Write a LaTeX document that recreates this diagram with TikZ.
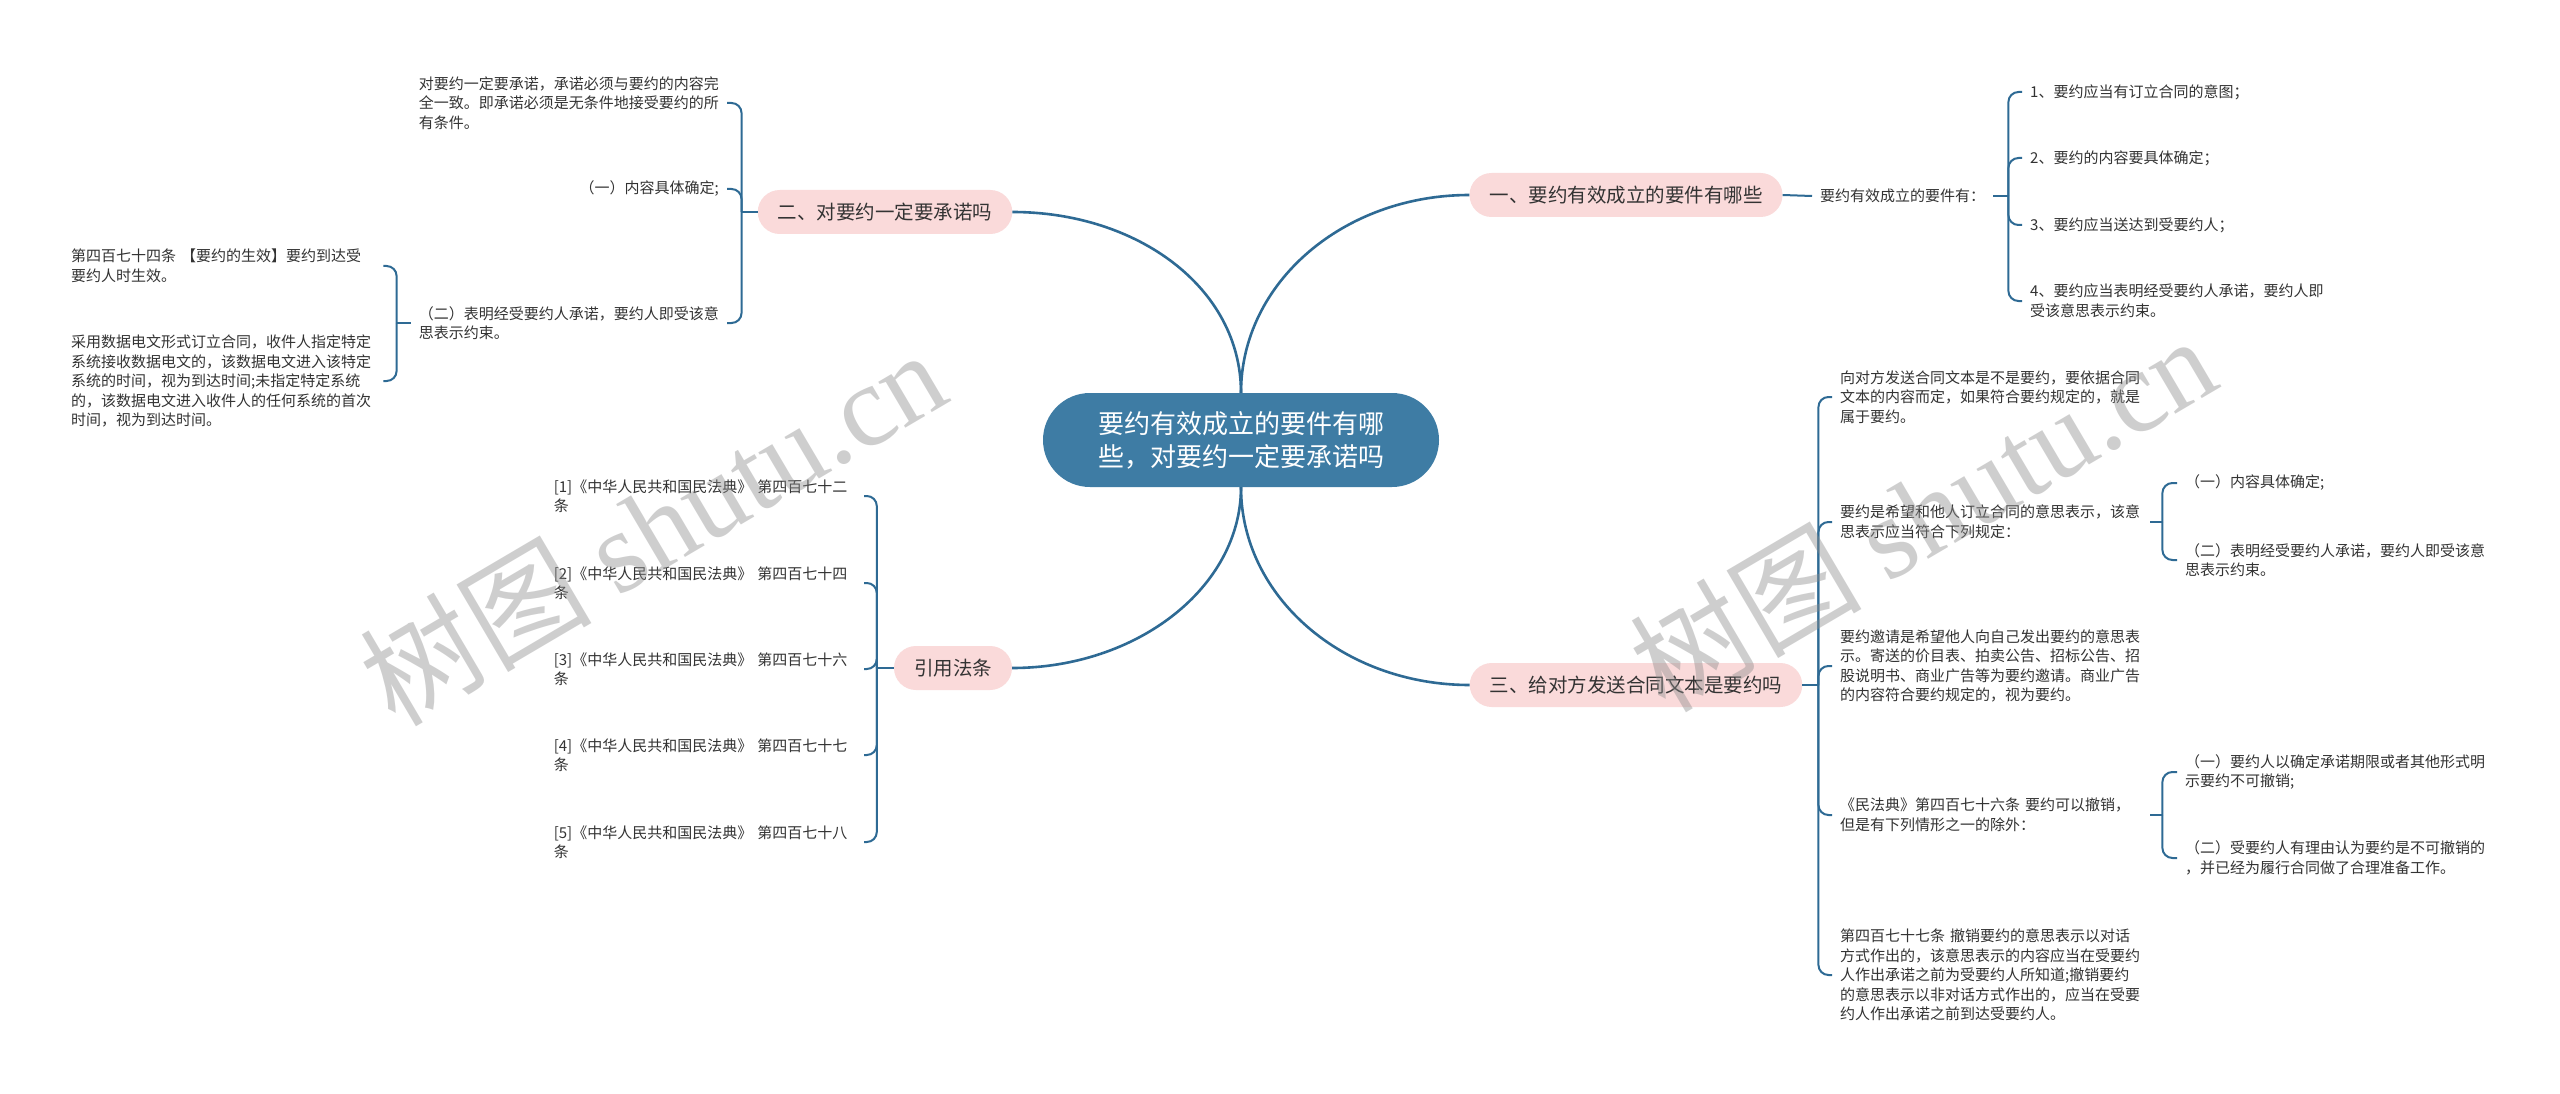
\documentclass[tikz,border=0pt]{standalone}
\usepackage{fontspec}
\setmainfont{Noto Sans CJK SC}
\newfontfamily\wmserif{Liberation Serif}
\usetikzlibrary{calc}
\definecolor{rootblue}{HTML}{3E7CA4}
\definecolor{linkblue}{HTML}{2E6A94}
\definecolor{pinkfill}{HTML}{FADADA}
\definecolor{txt}{HTML}{333333}
\begin{document}
\begin{tikzpicture}[x=1pt,y=-1pt,
  link/.style={draw=linkblue, line width=2pt},
  mainlink/.style={draw=linkblue, line width=2.6pt},
  fork/.style={draw=linkblue, line width=2pt, rounded corners=10pt},
  rootnode/.style={fill=rootblue, text=white, rounded corners=47pt, minimum height=94pt, minimum width=396pt, align=center, font=\fontsize{26}{33}\selectfont, inner sep=0pt},
  branch/.style={fill=pinkfill, text=txt, rounded corners=22pt, minimum height=44pt, inner xsep=20pt, inner ysep=0pt, font=\fontsize{19.5}{24}\selectfont},
  leaf/.style={text=txt, align=left, inner xsep=8pt, inner ysep=0pt, font=\fontsize{15}{19.5}\selectfont},
  wm/.style={text=black!45, opacity=0.42, rotate=30.5, inner sep=0pt}]
\fill[white] (0,0) rectangle (2560,1094);
\useasboundingbox (0,0) rectangle (2560,1094);

% root and branches
\node[rootnode] (root) at (1241,440) {要约有效成立的要件有哪\\些，对要约一定要承诺吗};
\node[branch] (b1) at (1626,195) {一、要约有效成立的要件有哪些};
\node[branch] (b2) at (885,212) {二、对要约一定要承诺吗};
\node[branch] (b3) at (1636,685) {三、给对方发送合同文本是要约吗};
\node[branch] (b4) at (953,668) {引用法条};

\draw[mainlink] (root.north) .. controls +(0,-105) and +(125,0) .. (b2.east);
\draw[mainlink] (root.north) .. controls +(0,-110) and +(-126,0) .. (b1.west);
\draw[mainlink] (root.south) .. controls +(0,100) and +(125,0) .. (b4.east);
\draw[mainlink] (root.south) .. controls +(0,110) and +(-126,0) .. (b3.west);

% branch 1
\node[leaf, anchor=west] (c1) at (1812,196) {要约有效成立的要件有：};
\node[leaf, anchor=west] (c11) at (2022,92) {1、要约应当有订立合同的意图；};
\node[leaf, anchor=west] (c12) at (2022,158) {2、要约的内容要具体确定；};
\node[leaf, anchor=west] (c13) at (2022,225) {3、要约应当送达到受要约人；};
\node[leaf, anchor=west] (c14) at (2022,301) {4、要约应当表明经受要约人承诺，要约人即\\受该意思表示约束。};
\draw[link] (b1.east) -- (c1.west);
\draw[link] (c1.east) -- ++(15,0) coordinate (f1);
\foreach \n in {c11,c12,c13,c14} \draw[fork] (f1) |- (\n.west);

% branch 2
\node[leaf, anchor=east] (n21) at (727,103) {对要约一定要承诺，承诺必须与要约的内容完\\全一致。即承诺必须是无条件地接受要约的所\\有条件。};
\node[leaf, anchor=east] (n22) at (727,189) {（一）内容具体确定;};
\node[leaf, anchor=east] (n23) at (727,323) {（二）表明经受要约人承诺，要约人即受该意\\思表示约束。};
\draw[link] (b2.west) -- ++(-16,0) coordinate (f2);
\foreach \n in {n21,n22,n23} \draw[fork] (f2) |- (\n.east);

\node[leaf, anchor=west, text width=304pt] (m1) at (63,266) {第四百七十四条 【要约的生效】要约到达受\\要约人时生效。};
\node[leaf, anchor=west, text width=304pt] (m2) at (63,381) {采用数据电文形式订立合同，收件人指定特定\\系统接收数据电文的，该数据电文进入该特定\\系统的时间，视为到达时间;未指定特定系统\\的，该数据电文进入收件人的任何系统的首次\\时间，视为到达时间。};
\draw[link] (n23.west) -- ++(-14,0) coordinate (f23);
\foreach \n in {m1,m2} \draw[fork] (f23) |- (\n.east);

% branch 3
\node[leaf, anchor=west, text width=302pt] (d1) at (1832,397) {向对方发送合同文本是不是要约，要依据合同\\文本的内容而定，如果符合要约规定的，就是\\属于要约。};
\node[leaf, anchor=west, text width=302pt] (d2) at (1832,522) {要约是希望和他人订立合同的意思表示，该意\\思表示应当符合下列规定：};
\node[leaf, anchor=west, text width=302pt] (d3) at (1832,666) {要约邀请是希望他人向自己发出要约的意思表\\示。寄送的价目表、拍卖公告、招标公告、招\\股说明书、商业广告等为要约邀请。商业广告\\的内容符合要约规定的，视为要约。};
\node[leaf, anchor=west, text width=302pt] (d4) at (1832,815) {《民法典》第四百七十六条 要约可以撤销，\\但是有下列情形之一的除外：};
\node[leaf, anchor=west, text width=302pt] (d5) at (1832,975) {第四百七十七条 撤销要约的意思表示以对话\\方式作出的，该意思表示的内容应当在受要约\\人作出承诺之前为受要约人所知道;撤销要约\\的意思表示以非对话方式作出的，应当在受要\\约人作出承诺之前到达受要约人。};
\draw[link] (b3.east) -- ++(16,0) coordinate (f3);
\foreach \n in {d1,d2,d3,d4,d5} \draw[fork] (f3) |- (\n.west);

\node[leaf, anchor=west] (e1) at (2177,483) {（一）内容具体确定;};
\node[leaf, anchor=west] (e2) at (2177,560) {（二）表明经受要约人承诺，要约人即受该意\\思表示约束。};
\draw[link] (d2.east) -- ++(12,0) coordinate (fd2);
\foreach \n in {e1,e2} \draw[fork] (fd2) |- (\n.west);

\node[leaf, anchor=west] (e3) at (2177,772) {（一）要约人以确定承诺期限或者其他形式明\\示要约不可撤销;};
\node[leaf, anchor=west] (e4) at (2177,858) {（二）受要约人有理由认为要约是不可撤销的\\，并已经为履行合同做了合理准备工作。};
\draw[link] (d4.east) -- ++(12,0) coordinate (fd4);
\foreach \n in {e3,e4} \draw[fork] (fd4) |- (\n.west);

% branch 4
\node[leaf, anchor=east, text width=302pt] (r1) at (864,496) {[1]《中华人民共和国民法典》 第四百七十二\\条};
\node[leaf, anchor=east, text width=302pt] (r2) at (864,583) {[2]《中华人民共和国民法典》 第四百七十四\\条};
\node[leaf, anchor=east, text width=302pt] (r3) at (864,669) {[3]《中华人民共和国民法典》 第四百七十六\\条};
\node[leaf, anchor=east, text width=302pt] (r4) at (864,755) {[4]《中华人民共和国民法典》 第四百七十七\\条};
\node[leaf, anchor=east, text width=302pt] (r5) at (864,842) {[5]《中华人民共和国民法典》 第四百七十八\\条};
\draw[link] (b4.west) -- ++(-17,0) coordinate (f4);
\foreach \n in {r1,r2,r3,r4,r5} \draw[fork] (f4) |- (\n.east);

% watermarks
\node[wm, font=\fontsize{116}{120}\selectfont] (wm1) at (652,526) {树图 {\wmserif shutu.cn}};
\node[wm, font=\fontsize{116}{120}\selectfont] (wm2) at (1922,512) {树图 {\wmserif shutu.cn}};
\end{tikzpicture}
\end{document}
